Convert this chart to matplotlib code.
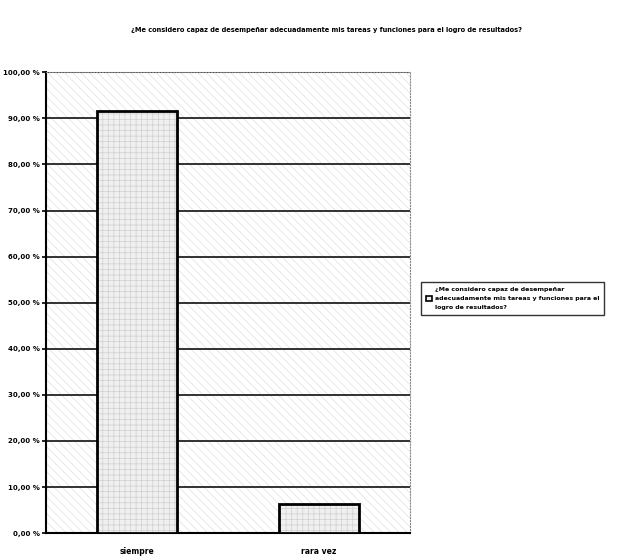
import matplotlib.pyplot as plt
from matplotlib.patches import Patch
from matplotlib.ticker import FuncFormatter

plt.rcParams['font.family'] = ['Liberation Sans Narrow', 'DejaVu Sans']
plt.rcParams['hatch.linewidth'] = 0.5

categorias = ['siempre', 'rara vez']
porcentajes = [91.67, 6.25]
pregunta = '¿Me considero capaz de desempeñar adecuadamente mis tareas y funciones para el logro de resultados?'
leyenda = '¿Me considero capaz de desempeñar\nadecuadamente mis tareas y funciones para el\nlogro de resultados?'

fig = plt.figure(figsize=(6.17, 5.6), dpi=100)
ax = fig.add_axes([0.0746, 0.048, 0.59, 0.823])

# fondo rayado del area de trazado
ax.set_facecolor('white')
ax.patch.set_hatch('\\\\\\\\')
ax.patch.set_edgecolor('#e0e0e0')

x = range(len(categorias))
ax.bar(x, porcentajes, width=0.44, color='#f0f0f0', edgecolor='#cfcfcf',
       linewidth=0, hatch='+++', zorder=3)
ax.bar(x, porcentajes, width=0.44, color='none', edgecolor='black',
       linewidth=2, zorder=4)

ax.set_xlim(-0.5, 1.5)
ax.set_ylim(0, 100)
ax.set_yticks(range(0, 101, 10))
ax.yaxis.set_major_formatter(FuncFormatter(lambda v, p: f'{v:.2f}'.replace('.', ',') + ' %'))
ax.set_xticks(list(x))
ax.set_xticklabels(categorias, fontsize=5.5, fontweight='bold')
ax.tick_params(axis='y', labelsize=5, length=3, width=1.2, pad=1.5)
ax.tick_params(axis='x', length=0, pad=10)
for lbl in ax.get_yticklabels():
    lbl.set_fontweight('bold')

ax.yaxis.grid(True, color='#222222', linewidth=1.3, zorder=1)
ax.set_axisbelow(True)
ax.spines['left'].set_linewidth(1.5)
ax.spines['bottom'].set_linewidth(1.5)
ax.spines['top'].set_linestyle(':')
ax.spines['top'].set_color('#888888')
ax.spines['right'].set_linestyle(':')
ax.spines['right'].set_color('#888888')

fig.text(0.529, 0.946, pregunta, ha='center', va='center', fontsize=4.8,
         fontweight='bold')

handle = Patch(facecolor='#ececec', edgecolor='black', linewidth=1.2)
leg = fig.legend([handle], [leyenda], loc='upper left', bbox_to_anchor=(0.678, 0.502),
                 frameon=True, edgecolor='black', fancybox=False,
                 handlelength=0.9, handleheight=0.9, handletextpad=0.4,
                 borderpad=0.8, labelspacing=0.3,
                 prop={'weight': 'bold', 'size': 4.5})
leg.get_texts()[0].set_linespacing(2.0)

fig.savefig('out.png', dpi=100)
